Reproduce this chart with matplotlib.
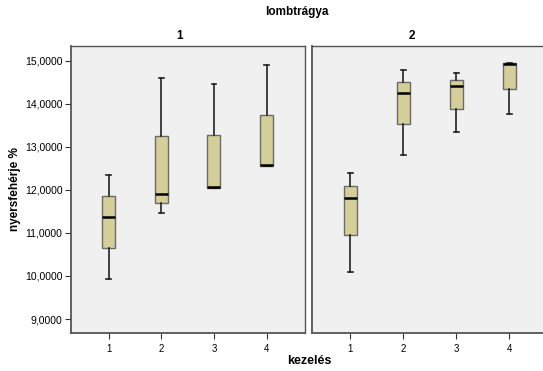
import matplotlib
matplotlib.use("Agg")
import matplotlib.pyplot as plt
from matplotlib.ticker import FuncFormatter

plt.rcParams['font.family'] = ['Liberation Sans', 'DejaVu Sans']

# kezelés groups
kezeles = [1, 2, 3, 4]
panels = ["1", "2"]

# box statistics: whisker low, Q1, median, Q3, whisker high
lo_1 = [9.92, 11.47, 12.05, 12.56]
q1_1 = [10.64, 11.69, 12.05, 12.56]
med_1 = [11.376, 11.90, 12.07, 12.57]
q3_1 = [11.865, 13.25, 13.27, 13.73]
hi_1 = [12.345, 14.598, 14.46, 14.91]

lo_2 = [10.08, 12.80, 13.35, 13.76]
q1_2 = [10.94, 13.52, 13.87, 14.34]
med_2 = [11.80, 14.25, 14.40, 14.92]
q3_2 = [12.10, 14.51, 14.56, 14.94]
hi_2 = [12.40, 14.78, 14.72, 14.94]

yticks = [9, 10, 11, 12, 13, 14, 15]

data = [(lo_1, q1_1, med_1, q3_1, hi_1), (lo_2, q1_2, med_2, q3_2, hi_2)]

fig = plt.figure(figsize=(5.43, 3.71), dpi=100)
fig.patch.set_facecolor('white')

W, H = 543, 371
boxes_px = [(70.7, 305), (312, 548)]
title_px = [180, 412]
top, bot = 46, 333

for i, (x0, x1) in enumerate(boxes_px):
    ax = fig.add_axes([x0 / W, 1 - bot / H, (x1 - x0) / W, (bot - top) / H])
    lo, q1, med, q3, hi = data[i]
    stats = []
    for k in range(len(kezeles)):
        stats.append(dict(whislo=lo[k], q1=q1[k], med=med[k], q3=q3[k],
                          whishi=hi[k], fliers=[]))
    ax.bxp(stats, positions=kezeles, widths=0.25, patch_artist=True,
           showfliers=False,
           boxprops=dict(facecolor='#d4cf98', edgecolor='#6a6a6a', linewidth=1.0),
           medianprops=dict(color='black', linewidth=1.8),
           whiskerprops=dict(color='#222222', linewidth=1.2),
           capprops=dict(color='#222222', linewidth=1.2),
           capwidths=0.09)
    ax.set_facecolor('#f0f0f0')
    ax.set_xlim(0.28, 4.73)
    ax.set_ylim(8.675, 15.34)
    ax.set_xticks(kezeles)
    ax.set_xticklabels([str(k) for k in kezeles], fontsize=7)
    ax.tick_params(axis='x', length=4, width=0.8, color='#333333', pad=4)
    for s in ax.spines.values():
        s.set_color('#555555')
        s.set_linewidth(1.0)
    ax.spines['left'].set_linewidth(1.3)
    ax.spines['bottom'].set_linewidth(1.3)
    fig.text(title_px[i] / W, 1 - 36 / H, panels[i], ha='center', va='center',
             fontsize=8.5, fontweight='bold')
    if i == 0:
        ax.set_yticks(yticks)
        ax.yaxis.set_major_formatter(FuncFormatter(lambda v, p: f"{int(v)},0000"))
        ax.tick_params(axis='y', length=4, width=0.8, color='#333333', labelsize=7.5, pad=2)
        ax.set_ylabel("nyersfehérje %", fontsize=8.5, fontweight='bold', labelpad=3)
    else:
        ax.set_yticks([])

fig.text(297 / W, 1 - 12 / H, "lombtrágya", ha='center', va='center',
         fontsize=8.5, fontweight='bold')
fig.text(309 / W, 1 - 361 / H, "kezelés", ha='center', va='center',
         fontsize=9, fontweight='bold')

fig.savefig("out.png", dpi=100)
